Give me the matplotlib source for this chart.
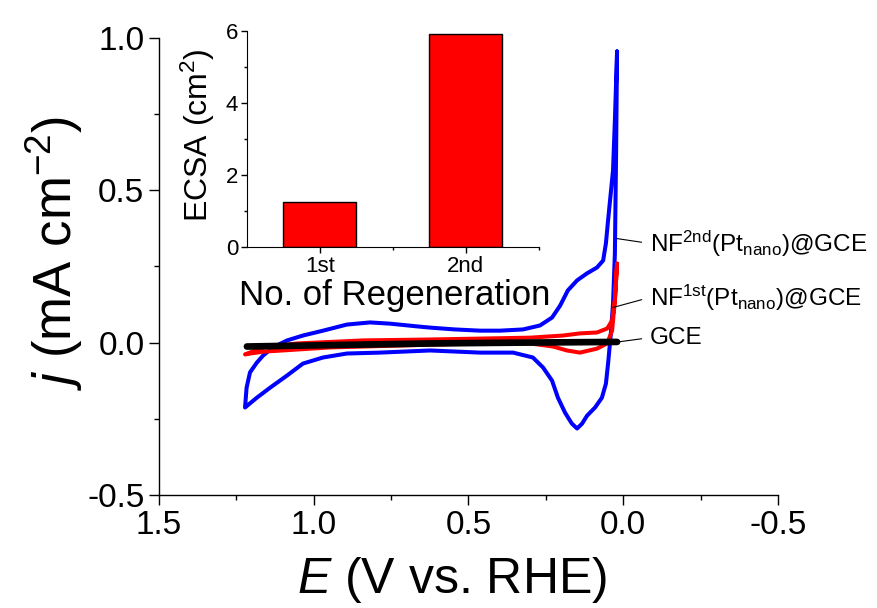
import matplotlib
matplotlib.use("Agg")
import matplotlib.pyplot as plt
from matplotlib import font_manager
from matplotlib.ticker import MultipleLocator

# CV curves: E (V vs. RHE) and j (mA cm-2)
E_nf2 = [0.020, 0.027, 0.033, 0.049, 0.056, 0.065, 0.085, 0.117, 0.149, 0.179,
         0.204, 0.230, 0.269, 0.324, 0.398, 0.463, 0.544, 0.624, 0.666, 0.754,
         0.818, 0.893, 0.970, 1.035, 1.086, 1.132, 1.164, 1.184, 1.206, 1.217,
         1.222, 1.184, 1.141, 1.086, 1.035, 0.970, 0.893, 0.786, 0.624, 0.463,
         0.356, 0.292, 0.259, 0.230, 0.211, 0.188, 0.166, 0.149, 0.133, 0.117,
         0.091, 0.069, 0.056, 0.049, 0.040, 0.033, 0.027, 0.023, 0.020]
j_nf2 = [0.955, 0.729, 0.565, 0.401, 0.325, 0.269, 0.246, 0.227, 0.204, 0.171,
         0.121, 0.082, 0.056, 0.043, 0.039, 0.039, 0.043, 0.049, 0.053, 0.062,
         0.066, 0.059, 0.039, 0.023, 0.007, -0.016, -0.043, -0.066, -0.098, -0.148,
         -0.213, -0.181, -0.148, -0.108, -0.069, -0.049, -0.036, -0.033, -0.026, -0.033,
         -0.033, -0.049, -0.082, -0.125, -0.181, -0.230, -0.266, -0.282, -0.266, -0.240,
         -0.213, -0.181, -0.135, -0.069, 0.030, 0.128, 0.292, 0.630, 0.955]

E_nf1 = [0.020, 0.027, 0.036, 0.052, 0.085, 0.140, 0.195, 0.301, 0.463, 0.624,
         0.841, 1.054, 1.164, 1.222, 1.206, 1.164, 0.947, 0.624, 0.463, 0.301,
         0.227, 0.182, 0.140, 0.085, 0.052, 0.036, 0.027, 0.020]
j_nf1 = [0.259, 0.138, 0.072, 0.046, 0.033, 0.030, 0.023, 0.016, 0.013, 0.010,
         0.007, -0.003, -0.016, -0.039, -0.036, -0.030, -0.016, -0.007, -0.003, -0.003,
         -0.013, -0.026, -0.033, -0.020, -0.003, 0.039, 0.138, 0.259]

E_gce = [1.216, 1.044, 0.624, 0.301, 0.020]
j_gce = [-0.013, -0.010, -0.003, 0.000, 0.002]

# inset: ECSA after each regeneration
regen = ["1st", "2nd"]
ecsa = [1.26, 5.90]

names = [r"NF$^{\rm 2nd}$(Pt$_{\rm nano}$)@GCE",
         r"NF$^{\rm 1st}$(Pt$_{\rm nano}$)@GCE",
         "GCE"]

have_narrow = "Liberation Sans Narrow" in {f.name for f in font_manager.fontManager.ttflist}
lab_font = "Liberation Sans Narrow" if have_narrow else "Liberation Sans"
if have_narrow:
    tick_fs, lab_fs, in_tick_fs, in_lab_fs = 28, 42, 18, 27
else:
    tick_fs, lab_fs, in_tick_fs, in_lab_fs = 24, 36, 16, 24

plt.rcParams["font.family"] = ["Liberation Sans", "DejaVu Sans"]
plt.rcParams["axes.unicode_minus"] = False
plt.rcParams["mathtext.fontset"] = "custom"
plt.rcParams["mathtext.rm"] = "Liberation Sans"
plt.rcParams["mathtext.it"] = lab_font + ":italic"

fig = plt.figure(figsize=(8.77, 6.08), dpi=100)
ax = fig.add_axes([0.1813, 0.1859, 0.7058, 0.7521])

ax.plot(E_nf2, j_nf2, color="#0000ff", lw=2.9, solid_joinstyle="round", solid_capstyle="round")
ax.plot(E_nf1, j_nf1, color="#ff0000", lw=2.9, solid_joinstyle="round", solid_capstyle="round")
ax.plot(E_gce, j_gce, color="black", lw=4.8, solid_capstyle="round")

ax.set_xlim(1.5, -0.5)
ax.set_ylim(-0.5, 1.0)
ax.xaxis.set_major_locator(MultipleLocator(0.5))
ax.xaxis.set_minor_locator(MultipleLocator(0.25))
ax.yaxis.set_major_locator(MultipleLocator(0.5))
ax.yaxis.set_minor_locator(MultipleLocator(0.25))
ax.xaxis.set_major_formatter(plt.FormatStrFormatter("%.1f"))
ax.yaxis.set_major_formatter(plt.FormatStrFormatter("%.1f"))
for s in ["top", "right"]:
    ax.spines[s].set_visible(False)
for s in ["left", "bottom"]:
    ax.spines[s].set_linewidth(1.0)
ax.tick_params(which="major", direction="out", length=7, width=1.0, pad=3.5)
ax.tick_params(which="minor", direction="out", length=3.8, width=1.0)
for t in ax.get_xticklabels() + ax.get_yticklabels():
    t.set_fontfamily(lab_font)
    t.set_fontsize(tick_fs)

ax.set_xlabel(r"$\it{E}$ (V vs. RHE)", fontsize=lab_fs, fontfamily=lab_font)
ax.xaxis.label.set_va("baseline")
ax.xaxis.set_label_coords(0.473, -0.214)
ax.set_ylabel(r"$\it{j}$ (mA cm$^{-2}$)", fontsize=lab_fs + 2, fontfamily=lab_font)
ax.yaxis.label.set_va("baseline")
ax.yaxis.set_label_coords(-0.14, 0.53)

# curve labels with leader lines
label_xy = [(0.020, 0.341), (0.033, 0.115), (0.017, 0.002)]
label_txt = [(-0.086, 0.325), (-0.086, 0.148), (-0.086, 0.016)]
for name, xy, xt in zip(names, label_xy, label_txt):
    ax.annotate(name, xy=xy, xytext=xt, fontsize=17.5, ha="left", va="center",
                arrowprops=dict(arrowstyle="-", lw=0.8, color="black",
                                relpos=(0, 0.5), shrinkA=4, shrinkB=0))

# inset bar chart
axin = fig.add_axes([0.2813, 0.5933, 0.3333, 0.3562])
axin.bar([1, 2], ecsa, width=0.5, color="#ff0000", edgecolor="black", lw=1.0)
axin.set_xlim(0.5, 2.5)
axin.set_ylim(0, 6)
axin.set_xticks([1, 2])
axin.set_xticklabels(regen)
axin.set_xticks([1.5, 2.5], minor=True)
axin.yaxis.set_major_locator(MultipleLocator(2))
axin.yaxis.set_minor_locator(MultipleLocator(1))
for s in ["top", "right"]:
    axin.spines[s].set_visible(False)
axin.tick_params(which="major", direction="out", length=4, width=1.0, pad=2)
axin.tick_params(which="minor", direction="out", length=2.5, width=1.0)
for t in axin.get_xticklabels() + axin.get_yticklabels():
    t.set_fontfamily(lab_font)
    t.set_fontsize(in_tick_fs)
axin.set_xlabel("No. of Regeneration", fontsize=in_lab_fs + 1, fontfamily=lab_font)
axin.xaxis.label.set_va("baseline")
axin.xaxis.set_label_coords(0.507, -0.266)
axin.set_ylabel(r"ECSA (cm$^{\rm 2}$)", fontsize=in_lab_fs - 1, fontfamily=lab_font)
axin.yaxis.label.set_va("baseline")
axin.yaxis.set_label_coords(-0.132, 0.518)

fig.savefig("out.png", dpi=100)
